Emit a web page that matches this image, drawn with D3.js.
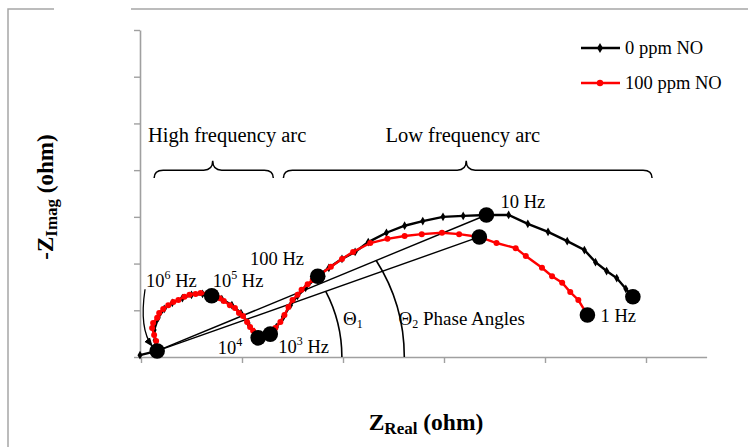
<!DOCTYPE html>
<html>
<head>
<meta charset="utf-8">
<script src="https://cdn.jsdelivr.net/npm/d3@7/dist/d3.min.js"></script>
<style>
  html, body { margin: 0; padding: 0; background: #fff; }
  svg { display: block; font-family: "Liberation Serif", "Times New Roman", serif; }
</style>
</head>
<body>
<svg id="chart" width="748" height="447"></svg>
<script>
// Nyquist plot: real vs. negative imaginary impedance (arbitrary units)
const seriesNames = ["0 ppm NO", "100 ppm NO"];
const seriesColors = ["#000000", "#ff0000"];

const zReal0 = [-0.01, 0.16, 0.14, 0.13, 0.17, 0.23, 0.31, 0.41, 0.50, 0.61, 0.70, 0.80, 0.90, 0.99, 1.06, 1.12,
  1.16, 1.28, 1.34, 1.41, 1.48, 1.55, 1.63, 1.75, 1.86, 1.99, 2.12, 2.25, 2.43, 2.61, 2.79, 2.99, 3.19,
  3.42, 3.64, 3.83, 4.03, 4.22, 4.39, 4.50, 4.61, 4.71, 4.80, 4.87];
const zImag0 = [0.04, 0.13, 0.36, 0.58, 0.84, 1.03, 1.16, 1.26, 1.33, 1.35, 1.31, 1.24, 1.11, 0.94, 0.73, 0.54,
  0.41, 0.49, 0.64, 0.86, 1.11, 1.31, 1.48, 1.73, 1.91, 2.10, 2.25, 2.46, 2.66, 2.81, 2.91, 3.00, 3.02,
  3.04, 3.04, 2.85, 2.68, 2.48, 2.29, 2.03, 1.84, 1.69, 1.46, 1.29];

const zReal100 = [0.16, 0.15, 0.13, 0.11, 0.12, 0.16, 0.18, 0.22, 0.27, 0.32, 0.37, 0.43, 0.48, 0.54, 0.59, 0.65,
  0.70, 0.78, 0.82, 0.88, 0.93, 0.97, 1.01, 1.05, 1.08, 1.11, 1.14, 1.16, 1.22, 1.28, 1.33, 1.38, 1.42,
  1.46, 1.50, 1.55, 1.59, 1.65, 1.70, 1.75, 1.88, 1.99, 2.10, 2.27, 2.44, 2.61, 2.78, 2.98, 3.15, 3.35,
  3.52, 3.71, 3.81, 3.97, 4.07, 4.17, 4.25, 4.33, 4.42];
const zImag100 = [0.13, 0.34, 0.47, 0.62, 0.73, 0.84, 0.94, 1.03, 1.11, 1.18, 1.22, 1.29, 1.33, 1.35, 1.37, 1.35,
  1.31, 1.26, 1.20, 1.11, 1.05, 0.94, 0.88, 0.75, 0.64, 0.56, 0.47, 0.41, 0.45, 0.49, 0.62, 0.75, 0.90,
  1.07, 1.22, 1.33, 1.44, 1.56, 1.65, 1.73, 1.93, 2.10, 2.25, 2.44, 2.53, 2.59, 2.63, 2.66, 2.63, 2.57,
  2.44, 2.33, 2.16, 1.91, 1.73, 1.59, 1.39, 1.22, 0.90];

// highlighted frequency points (indices into each series)
const keyIdx0 = [1, 10, 16, 17, 23, 33, 43];
const keyIdx100 = [49, 58];

// axis ticks (unlabelled)
const xTicks = [0, 1, 2, 3, 4, 5];
const yTicks = [0, 1, 2, 3, 4, 5, 6, 7];

// frequency labels: [text, superscript, suffix, x, y] in data units
const freqLabels = [
  ["10", "6", " Hz", 0.05, 1.50],
  ["10", "5", " Hz", 0.71, 1.50],
  ["10", "4", "",    0.76, 0.06],
  ["10", "3", " Hz", 1.36, 0.08],
  ["100 Hz", "", "", 1.08, 1.97],
  ["10 Hz", "", "", 3.56, 3.19],
  ["1 Hz", "", "", 4.55, 0.75]
];

// brace spans: [x0, tip, x1] in data units, and their captions
const braces = [[0.13, 0.71, 1.31], [1.41, 3.22, 5.06]];
const braceCaptions = [["High frequency arc", 0.07], ["Low frequency arc", 2.42]];

// phase-angle arcs: centre on the real axis and radius (data units)
const phaseArcs = [{ cx: 0.584, r: 1.405 }, { cx: 0.827, r: 1.78 }];

const svg = d3.select("#chart");
const x = d3.scaleLinear().domain([0, 5.6]).range([141, 141 + 5.6 * 101]);
const y = d3.scaleLinear().domain([0, 7]).range([357, 30]);

// outer frame
svg.append("path")
  .attr("d", "M8,460 V9 H54 M131,9 H760")
  .attr("fill", "none").attr("stroke", "#a6a6a6").attr("stroke-width", 1.5);

// axes
const gx = svg.append("g").attr("transform", `translate(0,${y(0)})`)
  .call(d3.axisBottom(x).tickValues(xTicks).tickSize(6).tickSizeOuter(0).tickFormat(""));
const gy = svg.append("g").attr("transform", `translate(${x(0) - 1},0)`)
  .call(d3.axisLeft(y).tickValues(yTicks).tickSize(6).tickSizeOuter(0).tickFormat(""));
[gx, gy].forEach(g => {
  g.select(".domain").attr("stroke", "#a0a0a0").attr("stroke-width", 1.6);
  g.selectAll(".tick line").attr("stroke", "#a0a0a0").attr("stroke-width", 1.4);
});

const pts0 = zReal0.map((v, i) => [v, zImag0[i]]);
const pts100 = zReal100.map((v, i) => [v, zImag100[i]]);
const px = p => [x(p[0]), y(p[1])];

// phase-angle lines from the 10^6 Hz point
const origin = px(pts0[keyIdx0[0]]);
const tipBlack = px(pts0[keyIdx0[5]]);
const tipRed = px(pts100[keyIdx100[0]]);
const phaseLines = [tipBlack, tipRed];
svg.selectAll(".phase-line").data(phaseLines).join("line")
  .attr("x1", origin[0]).attr("y1", origin[1])
  .attr("x2", d => d[0]).attr("y2", d => d[1])
  .attr("stroke", "#000").attr("stroke-width", 1.4);

// phase arcs: from the x-axis up to the matching line
function arcPath(arc, tip) {
  const cx = x(arc.cx), cy = y(0), r = x(arc.cx + arc.r) - x(arc.cx);
  const dx = tip[0] - origin[0], dy = tip[1] - origin[1];
  const fx = origin[0] - cx, fy = origin[1] - cy;
  const a = dx * dx + dy * dy, b = 2 * (fx * dx + fy * dy), c = fx * fx + fy * fy - r * r;
  const t = (-b + Math.sqrt(b * b - 4 * a * c)) / (2 * a);
  const ix = origin[0] + t * dx, iy = origin[1] + t * dy;
  return `M${ix},${iy} A${r},${r} 0 0 1 ${cx + r},${cy}`;
}
svg.append("path").attr("d", arcPath(phaseArcs[0], tipRed))
  .attr("fill", "none").attr("stroke", "#000").attr("stroke-width", 1.6);
svg.append("path").attr("d", arcPath(phaseArcs[1], tipBlack))
  .attr("fill", "none").attr("stroke", "#000").attr("stroke-width", 1.6);

// series lines and markers
const line = d3.line().x(d => x(d[0])).y(d => y(d[1]));
const diamond = d3.symbol().type(d3.symbolDiamond).size(22);

svg.append("path").datum(pts0).attr("d", line)
  .attr("fill", "none").attr("stroke", seriesColors[0]).attr("stroke-width", 2.4);
svg.selectAll(".m0").data(pts0).join("path")
  .attr("d", diamond).attr("transform", d => `translate(${x(d[0])},${y(d[1])})`)
  .attr("fill", seriesColors[0]);

svg.append("path").datum(pts100).attr("d", line)
  .attr("fill", "none").attr("stroke", seriesColors[1]).attr("stroke-width", 2.4);
svg.selectAll(".m1").data(pts100).join("circle")
  .attr("cx", d => x(d[0])).attr("cy", d => y(d[1])).attr("r", 3)
  .attr("fill", seriesColors[1]);

// highlighted frequency points
const keyPts = keyIdx0.map(i => pts0[i]).concat(keyIdx100.map(i => pts100[i]));
svg.selectAll(".key").data(keyPts).join("circle")
  .attr("cx", d => x(d[0])).attr("cy", d => y(d[1])).attr("r", 7.8)
  .attr("fill", "#000");

// frequency labels
freqLabels.forEach(([base, sup, suffix, lx, ly]) => {
  const t = svg.append("text").attr("x", x(lx)).attr("y", y(ly))
    .attr("font-size", 18.5).attr("fill", "#000");
  t.append("tspan").text(base);
  if (sup) t.append("tspan").attr("dy", -8).attr("font-size", 12).text(sup);
  if (suffix) t.append("tspan").attr("dy", sup ? 8 : 0).text("\u00a0" + suffix.trim());
});

// arrow to the 10^6 Hz point
svg.append("defs").append("marker").attr("id", "arrow")
  .attr("viewBox", "0 0 10 10").attr("refX", 9).attr("refY", 5)
  .attr("markerWidth", 7).attr("markerHeight", 7).attr("orient", "auto")
  .append("path").attr("d", "M0,1 L10,5 L0,9 Z").attr("fill", "#000");
const a0 = [x(0.04), y(1.45)], a1 = [origin[0] - 5, origin[1] - 5];
svg.append("path")
  .attr("d", `M${a0[0]},${a0[1]} Q${a0[0] - 6},${a0[1] + 40} ${a1[0]},${a1[1]}`)
  .attr("fill", "none").attr("stroke", "#000").attr("stroke-width", 1.3)
  .attr("marker-end", "url(#arrow)");

// theta labels
function theta(lx, ly, sub, extra) {
  const t = svg.append("text").attr("x", x(lx)).attr("y", y(ly))
    .attr("font-size", 19).attr("fill", "#000");
  t.append("tspan").text("\u0398");
  t.append("tspan").attr("dy", 3).attr("font-size", 12).text(sub);
  if (extra) t.append("tspan").attr("dy", -3).text(" " + extra);
}
theta(2.0, 0.68, "1");
theta(2.55, 0.68, "2", "Phase Angles");

// braces
function bracePath(x0, xm, x1) {
  const X0 = x(x0), XM = x(xm), X1 = x(x1);
  const yh = y(4.0), ye = y(3.83), yt = y(4.2), q = 9;
  return `M${X0},${ye} Q${X0},${yh} ${X0 + q},${yh} L${XM - q},${yh} Q${XM},${yh} ${XM},${yt}` +
    ` Q${XM},${yh} ${XM + q},${yh} L${X1 - q},${yh} Q${X1},${yh} ${X1},${ye}`;
}
svg.selectAll(".brace").data(braces).join("path")
  .attr("d", d => bracePath(d[0], d[1], d[2]))
  .attr("fill", "none").attr("stroke", "#000").attr("stroke-width", 1.5);
svg.selectAll(".brace-cap").data(braceCaptions).join("text")
  .attr("x", d => x(d[1])).attr("y", y(4.6))
  .attr("font-size", 20.5).attr("fill", "#000").text(d => d[0]);

// legend
const legend = svg.append("g");
seriesNames.forEach((name, i) => {
  const ly = 48 + i * 35;
  legend.append("line").attr("x1", 581).attr("x2", 620).attr("y1", ly).attr("y2", ly)
    .attr("stroke", seriesColors[i]).attr("stroke-width", 2.4);
  if (i === 0) legend.append("path").attr("d", d3.symbol().type(d3.symbolDiamond).size(30))
    .attr("transform", `translate(600,${ly})`).attr("fill", seriesColors[i]);
  else legend.append("circle").attr("cx", 600).attr("cy", ly).attr("r", 3.2).attr("fill", seriesColors[i]);
  legend.append("text").attr("x", 625).attr("y", ly + 6).attr("font-size", 18.5)
    .attr("fill", "#000").text(name);
});

// axis titles
const xt = svg.append("text").attr("x", 426).attr("y", 430).attr("text-anchor", "middle")
  .attr("font-size", 23.5).attr("font-weight", "bold");
xt.append("tspan").text("Z");
xt.append("tspan").attr("dy", 4).attr("font-size", 17).text("Real");
xt.append("tspan").attr("dy", -4).text(" (ohm)");

const yt = svg.append("text").attr("transform", "translate(53,197) rotate(-90)")
  .attr("text-anchor", "middle").attr("font-size", 23).attr("font-weight", "bold");
yt.append("tspan").text("-Z");
yt.append("tspan").attr("dy", 4).attr("font-size", 17).text("Imag");
yt.append("tspan").attr("dy", -4).text(" (ohm)");
</script>
</body>
</html>
